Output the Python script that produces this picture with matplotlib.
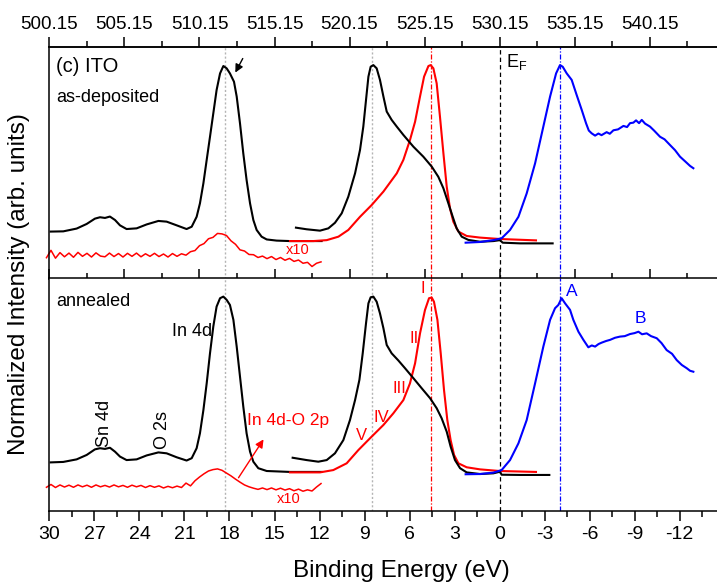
import numpy as np
import matplotlib
matplotlib.use("Agg")
import matplotlib.pyplot as plt

plt.rcParams['font.family'] = ['Liberation Sans', 'DejaVu Sans']
plt.rcParams['mathtext.fontset'] = 'custom'
plt.rcParams['mathtext.rm'] = 'Liberation Sans'
plt.rcParams['mathtext.it'] = 'Liberation Sans'
plt.rcParams['axes.unicode_minus'] = False

# ---- as-deposited ----
# In 4d, Sn 4d, O 2s region (black)
dep_core_be = [29.92, 29.08, 28.19, 27.52, 26.97, 26.63, 26.3, 25.97, 25.63, 25.3, 24.86, 24.19,
               23.52, 22.74, 22.19, 21.52, 20.86, 20.52, 20.19, 19.97, 19.74, 19.52, 19.3, 19.08,
               18.86, 18.63, 18.41, 18.19, 17.97, 17.7, 17.52, 17.3, 17.08, 16.86, 16.63, 16.41,
               16.19, 15.86, 15.52, 14.86, 13.97, 11.86]
dep_core_i = [0.203, 0.204, 0.216, 0.236, 0.259, 0.265, 0.262, 0.268, 0.253, 0.230, 0.214, 0.217,
              0.234, 0.249, 0.246, 0.230, 0.214, 0.224, 0.267, 0.325, 0.412, 0.513, 0.613, 0.714,
              0.815, 0.887, 0.919, 0.909, 0.887, 0.851, 0.787, 0.671, 0.541, 0.426, 0.325, 0.253,
              0.210, 0.181, 0.169, 0.164, 0.162, 0.162]

# x10 magnified trace (red)
x10_be = [30.2, 29.9, 29.6, 29.3, 29.0, 28.7, 28.4, 28.1, 27.8, 27.5, 27.2, 26.9, 26.6, 26.3, 26.0,
          25.7, 25.4, 25.1, 24.8, 24.5, 24.2, 23.9, 23.6, 23.3, 23.0, 22.7, 22.4, 22.1, 21.8, 21.5,
          21.2, 20.9, 20.6, 20.3, 20.0, 19.7, 19.4, 19.1, 18.8, 18.5, 18.2, 17.9, 17.6, 17.3, 17.0,
          16.7, 16.4, 16.1, 15.8, 15.5, 15.2, 14.9, 14.6, 14.3, 14.0, 13.7, 13.4, 13.1, 12.8, 12.5,
          12.2, 11.9]
dep_x10_i = [0.090, 0.122, 0.088, 0.112, 0.094, 0.110, 0.092, 0.113, 0.096, 0.109, 0.093, 0.111,
             0.097, 0.094, 0.110, 0.095, 0.108, 0.093, 0.109, 0.096, 0.110, 0.094, 0.107, 0.096,
             0.109, 0.095, 0.106, 0.093, 0.108, 0.096, 0.107, 0.101, 0.116, 0.121, 0.142, 0.151,
             0.172, 0.178, 0.195, 0.193, 0.186, 0.163, 0.148, 0.124, 0.119, 0.104, 0.103, 0.091,
             0.097, 0.086, 0.095, 0.082, 0.091, 0.079, 0.087, 0.074, 0.080, 0.066, 0.070, 0.052,
             0.066, 0.072]

# valence band, black
dep_vb_be = [13.57, 12.86, 11.97, 11.41, 10.97, 10.52, 10.08, 9.63, 9.3, 9.08, 8.9, 8.74, 8.59,
             8.41, 8.19, 7.97, 7.74, 7.52, 7.19, 6.85, 6.41, 5.74, 5.08, 4.52, 4.08, 3.74, 3.41,
             3.12, 2.86, 2.52, 2.08, 1.3, 0.41, -0.03, -0.21, -1.37, -3.54]
dep_vb_i = [0.220, 0.213, 0.207, 0.217, 0.241, 0.282, 0.354, 0.455, 0.556, 0.657, 0.772, 0.873,
            0.916, 0.923, 0.909, 0.859, 0.787, 0.722, 0.686, 0.657, 0.621, 0.570, 0.527, 0.484,
            0.440, 0.390, 0.325, 0.267, 0.217, 0.181, 0.167, 0.159, 0.162, 0.166, 0.155, 0.152,
            0.152]

# valence band, red
dep_red_be = [13.97, 12.41, 11.52, 10.74, 10.08, 9.3, 8.52, 7.74, 6.85, 6.41, 5.97, 5.63, 5.3,
              5.03, 4.74, 4.59, 4.41, 4.19, 3.97, 3.74, 3.52, 3.3, 3.08, 2.74, 2.19, 1.3, 0.0,
              -2.43]
dep_red_i = [0.162, 0.162, 0.166, 0.181, 0.210, 0.267, 0.318, 0.376, 0.455, 0.513, 0.599, 0.678,
             0.787, 0.873, 0.919, 0.923, 0.909, 0.844, 0.700, 0.541, 0.397, 0.303, 0.246, 0.203,
             0.184, 0.177, 0.171, 0.165]

# unoccupied states, blue
dep_blue_be = [2.26, 1.3, 0.41, -0.14, -0.7, -1.26, -1.81, -2.37, -2.92, -3.37, -3.77, -4.03,
               -4.21, -4.48, -4.81, -5.14, -5.48, -5.77, -5.95, -6.14, -6.37, -6.59, -6.8, -7.14,
               -7.35, -7.59, -7.9, -8.26, -8.5, -8.7, -8.92, -9.1, -9.3, -9.48, -9.7, -10.03,
               -10.3, -10.7, -11.0, -11.37, -11.7, -12.03, -12.4, -12.7, -12.92]
dep_blue_i = [0.155, 0.158, 0.166, 0.174, 0.210, 0.267, 0.368, 0.498, 0.657, 0.787, 0.887, 0.923,
              0.916, 0.887, 0.859, 0.794, 0.729, 0.671, 0.640, 0.628, 0.618, 0.627, 0.620, 0.633,
              0.626, 0.641, 0.645, 0.660, 0.655, 0.672, 0.674, 0.684, 0.672, 0.686, 0.670, 0.657,
              0.640, 0.613, 0.602, 0.577, 0.555, 0.527, 0.505, 0.487, 0.477]

# ---- annealed ----
ann_core_be = [29.92, 29.08, 28.19, 27.52, 26.97, 26.63, 26.3, 25.97, 25.63, 25.3, 24.86, 24.19,
               23.52, 22.74, 22.19, 21.52, 20.86, 20.52, 20.19, 19.97, 19.74, 19.52, 19.3, 19.08,
               18.86, 18.63, 18.41, 18.19, 17.97, 17.74, 17.52, 17.3, 17.08, 16.86, 16.63, 16.41,
               16.08, 15.52, 13.97, 11.86]
ann_core_i = [0.209, 0.211, 0.222, 0.241, 0.265, 0.270, 0.267, 0.272, 0.255, 0.234, 0.219, 0.222,
              0.239, 0.252, 0.248, 0.231, 0.217, 0.227, 0.270, 0.334, 0.434, 0.549, 0.678, 0.793,
              0.879, 0.915, 0.922, 0.908, 0.886, 0.822, 0.707, 0.578, 0.449, 0.334, 0.255, 0.212,
              0.184, 0.172, 0.168, 0.168]

ann_x10_i = [0.102, 0.114, 0.101, 0.112, 0.103, 0.111, 0.102, 0.112, 0.104, 0.111, 0.102, 0.112,
             0.104, 0.110, 0.103, 0.112, 0.104, 0.110, 0.102, 0.111, 0.104, 0.110, 0.101, 0.109,
             0.102, 0.108, 0.099, 0.106, 0.100, 0.107, 0.101, 0.120, 0.108, 0.130, 0.146, 0.160,
             0.172, 0.178, 0.181, 0.175, 0.163, 0.151, 0.137, 0.124, 0.112, 0.104, 0.098, 0.093,
             0.099, 0.092, 0.099, 0.091, 0.098, 0.090, 0.096, 0.087, 0.094, 0.085, 0.091, 0.086,
             0.103, 0.118]

ann_vb_be = [13.79, 12.86, 12.08, 11.52, 10.97, 10.41, 9.97, 9.63, 9.34, 9.12, 8.9, 8.74, 8.59,
             8.41, 8.19, 7.97, 7.74, 7.52, 7.19, 6.74, 6.3, 5.74, 5.19, 4.63, 4.19, 3.86, 3.52,
             3.26, 2.97, 2.63, 2.19, 1.3, 0.41, -0.03, -0.14, -1.37, -3.32]
ann_vb_i = [0.229, 0.219, 0.212, 0.219, 0.248, 0.305, 0.391, 0.477, 0.564, 0.678, 0.807, 0.893,
            0.919, 0.922, 0.900, 0.850, 0.786, 0.714, 0.678, 0.647, 0.614, 0.571, 0.528, 0.485,
            0.442, 0.399, 0.341, 0.277, 0.219, 0.184, 0.166, 0.159, 0.162, 0.169, 0.156, 0.155,
            0.155]

ann_red_be = [13.97, 11.97, 11.08, 10.19, 9.41, 8.63, 7.74, 7.08, 6.41, 5.97, 5.63, 5.3, 4.97,
              4.7, 4.52, 4.37, 4.14, 3.92, 3.7, 3.48, 3.26, 3.03, 2.74, 2.19, 1.3, 0.0, -2.43]
ann_red_i = [0.166, 0.166, 0.176, 0.205, 0.262, 0.313, 0.370, 0.420, 0.477, 0.549, 0.635, 0.764,
             0.864, 0.915, 0.918, 0.900, 0.822, 0.678, 0.520, 0.391, 0.305, 0.241, 0.205, 0.188,
             0.179, 0.172, 0.168]

ann_blue_be = [2.26, 1.3, 0.41, -0.14, -0.7, -1.26, -1.81, -2.37, -2.92, -3.37, -3.7, -3.92,
               -4.14, -4.37, -4.7, -4.92, -5.26, -5.59, -5.92, -6.15, -6.37, -6.6, -6.81, -7.1,
               -7.37, -7.7, -8.03, -8.35, -8.7, -9.0, -9.26, -9.5, -9.81, -10.1, -10.48, -10.8,
               -11.14, -11.5, -11.81, -12.15, -12.48, -12.7, -12.92]
ann_blue_i = [0.158, 0.159, 0.165, 0.176, 0.219, 0.291, 0.391, 0.549, 0.707, 0.822, 0.872, 0.886,
              0.915, 0.893, 0.865, 0.822, 0.771, 0.736, 0.704, 0.712, 0.707, 0.718, 0.724, 0.731,
              0.736, 0.745, 0.750, 0.752, 0.761, 0.765, 0.771, 0.760, 0.764, 0.752, 0.743, 0.722,
              0.692, 0.676, 0.649, 0.628, 0.614, 0.603, 0.599]

# marker energies (eV)
v_grey = [18.3, 8.5]
v_red = 4.6
v_fermi = 0.0
v_blue = -4.0

top_ticks = [500.15, 505.15, 510.15, 515.15, 520.15, 525.15, 530.15, 535.15, 540.15]
top_minor = [502.65, 507.65, 512.65, 517.65, 522.65, 527.65, 532.65, 537.65, 542.65]
top_offset = 530.15

be_ticks = [30, 27, 24, 21, 18, 15, 12, 9, 6, 3, 0, -3, -6, -9, -12]
be_minor = [28.5, 25.5, 22.5, 19.5, 16.5, 13.5, 10.5, 7.5, 4.5, 1.5, -1.5, -4.5, -7.5, -10.5, -13.5]

BE_LIM = (30, -15.5)

fig = plt.figure(figsize=(7.17, 5.86), dpi=100)
ax1 = fig.add_axes([0.069, 0.5247, 0.952, 0.3946])
ax2 = fig.add_axes([0.069, 0.128, 0.952, 0.3968])

lw = 1.5
ax1.plot(dep_core_be, dep_core_i, color='black', lw=lw)
ax1.plot(x10_be, dep_x10_i, color='red', lw=1.1, clip_on=False)
ax1.plot(dep_red_be, dep_red_i, color='red', lw=lw)
ax1.plot(dep_vb_be, dep_vb_i, color='black', lw=lw)
ax1.plot(dep_blue_be, dep_blue_i, color='blue', lw=lw)

ax2.plot(ann_core_be, ann_core_i, color='black', lw=lw)
ax2.plot(x10_be, ann_x10_i, color='red', lw=1.1, clip_on=False)
ax2.plot(ann_red_be, ann_red_i, color='red', lw=lw)
ax2.plot(ann_vb_be, ann_vb_i, color='black', lw=lw)
ax2.plot(ann_blue_be, ann_blue_i, color='blue', lw=lw)

for ax in (ax1, ax2):
    for e in v_grey:
        ax.axvline(e, color='#b4b4b4', lw=1.0, ls=(0, (1.5, 1.5)), zorder=0)
    ax.axvline(v_red, color='red', lw=0.9, ls=(0, (4, 1.5, 1, 1.5)), zorder=0)
    ax.axvline(v_fermi, color='black', lw=0.9, ls=(0, (3.5, 2.5)), zorder=0)
    ax.axvline(v_blue, color='blue', lw=0.9, ls=(0, (4, 1.5, 1, 1.5)), zorder=0)
    ax.set_yticks([])
    for s in ax.spines.values():
        s.set_linewidth(1.1)

# upper panel: photon-energy scale on top, mirrored ticks pointing in at the bottom
ax1.set_xticks([top_offset - t for t in top_ticks])
ax1.set_xticks([top_offset - t for t in top_minor], minor=True)
ax1.tick_params(axis='x', which='both', direction='in', labelbottom=False, width=1.1)
ax1.tick_params(axis='x', which='major', length=7.5)
ax1.tick_params(axis='x', which='minor', length=4)

sec = ax1.secondary_xaxis('top', functions=(lambda b: top_offset - b, lambda t: top_offset - t))
sec.set_xticks(top_ticks)
sec.set_xticklabels([f"{t:.2f}" for t in top_ticks])
sec.set_xticks(top_minor, minor=True)
sec.tick_params(axis='x', which='both', direction='out', width=1.1, labelsize=13.5, pad=3)
sec.tick_params(axis='x', which='major', length=7.5)
sec.tick_params(axis='x', which='minor', length=4)
sec.spines['top'].set_linewidth(1.1)

# lower panel: binding-energy scale
ax2.set_xticks(be_ticks)
ax2.set_xticks(be_minor, minor=True)
ax2.tick_params(axis='x', which='both', direction='out', top=False, width=1.1, labelsize=14)
ax2.tick_params(axis='x', which='major', length=7.5)
ax2.tick_params(axis='x', which='minor', length=4)
ax2.set_xlabel('Binding Energy (eV)', fontsize=17.5)
ax2.xaxis.set_label_coords(0.515, -0.21)

for ax in (ax1, ax2):
    ax.set_xlim(*BE_LIM)
    ax.set_ylim(0, 1)

fig.text(0.026, 0.515, 'Normalized Intensity (arb. units)', rotation=90, fontsize=17.5,
         ha='center', va='center')

# annotations, upper panel
ax1.text(29.57, 0.915, '(c) ITO', fontsize=14.5, ha='left', va='center')
ax1.text(29.57, 0.781, 'as-deposited', fontsize=13, ha='left', va='center')
ax1.text(-0.43, 0.915, r'E$_\mathregular{F}$', fontsize=13, ha='left', va='baseline')
ax1.text(13.43, 0.123, 'x10', fontsize=10.5, color='red', ha='center', va='center')
ax1.annotate('', xy=(17.7, 0.880), xytext=(17.03, 0.962),
             arrowprops=dict(arrowstyle='-|>', color='black', lw=1.0, mutation_scale=12))

# annotations, lower panel
ax2.text(29.57, 0.899, 'annealed', fontsize=13, ha='left', va='center')
ax2.text(20.5, 0.770, 'In 4d', fontsize=13, ha='center', va='center')
ax2.text(26.33, 0.378, 'Sn 4d', fontsize=13, rotation=90, ha='center', va='center')
ax2.text(22.47, 0.348, 'O 2s', fontsize=13, rotation=90, ha='center', va='center')
ax2.text(14.1, 0.391, 'In 4d-O 2p', fontsize=12.5, color='red', ha='center', va='center')
ax2.annotate('', xy=(15.63, 0.318), xytext=(17.5, 0.133),
             arrowprops=dict(arrowstyle='-|>', color='red', lw=1.0, mutation_scale=12))
ax2.text(14.03, 0.052, 'x10', fontsize=10.5, color='red', ha='center', va='center')
for lab, be, y in [('I', 5.1, 0.955), ('II', 5.7, 0.740), ('III', 6.7, 0.525),
                   ('IV', 7.9, 0.404), ('V', 9.17, 0.323)]:
    ax2.text(be, y, lab, fontsize=12, color='red', ha='center', va='center')
ax2.text(-4.83, 0.946, 'A', fontsize=12.5, color='blue', ha='center', va='center')
ax2.text(-9.37, 0.826, 'B', fontsize=12.5, color='blue', ha='center', va='center')

fig.savefig('out.png', dpi=100)
